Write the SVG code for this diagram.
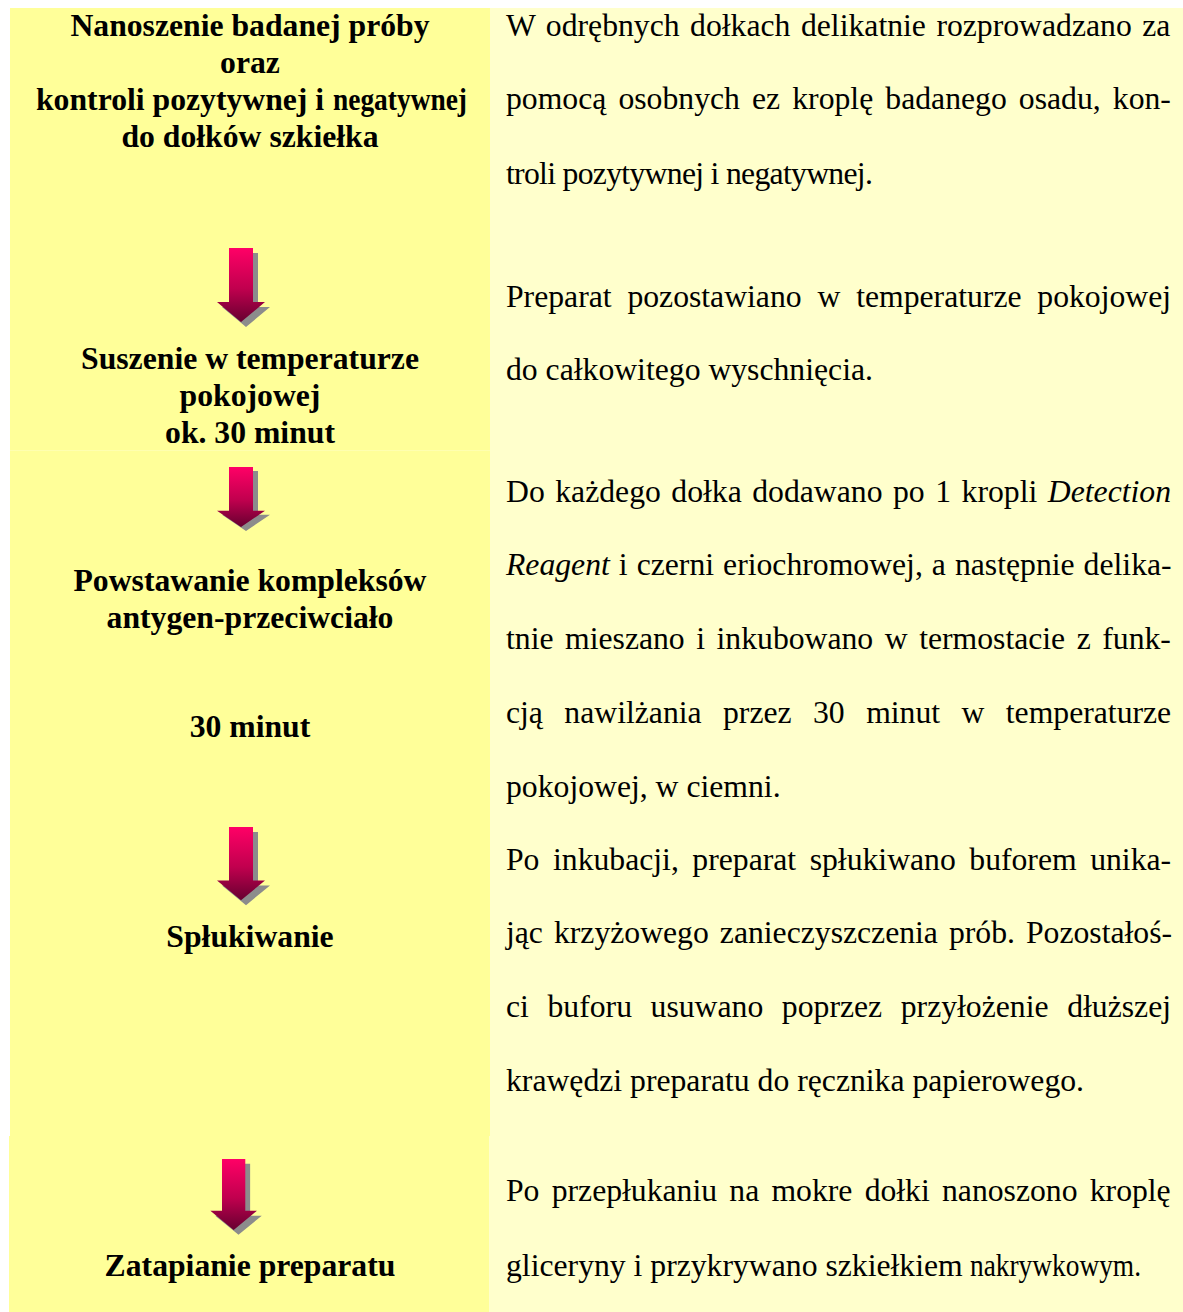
<svg xmlns="http://www.w3.org/2000/svg" width="1183" height="1312" viewBox="0 0 1183 1312">
<style>
.t{font-family:"Liberation Serif","Times New Roman",serif;font-size:31.7px;fill:#000}
.b{font-weight:bold;text-anchor:middle}
.bl{font-weight:bold}
.lc{fill:#FFFF99}
.rc{fill:#FFFFCC}
.sh{fill:#8C8C8C}
.ar{fill:url(#ag)}
</style>
<defs>
<linearGradient id="ag" x1="0" y1="0" x2="0" y2="1">
<stop offset="0" stop-color="#FF0066"/>
<stop offset="0.55" stop-color="#C0004E"/>
<stop offset="1" stop-color="#660030"/>
</linearGradient>
<g id="arrow">
<path class="sh" d="M5,5 h24 v54 h12 l-24,20 l-24,-20 h12 z"/>
<path class="ar" d="M0,0 h24 v54 h12 l-24,20 l-24,-20 h12 z"/>
</g>
</defs>
<rect width="1183" height="1312" fill="#FFFFFF"/>
<g id="background">
<rect class="lc" x="10" y="8" width="480" height="1128"/>
<rect class="lc" x="9" y="1136" width="480" height="176"/>
<rect class="rc" x="490" y="8" width="693" height="1128"/>
<rect class="rc" x="489" y="1136" width="694" height="176"/>
<line x1="10" y1="450.5" x2="490" y2="450.5" stroke="#FFFFB0" stroke-width="1"/>
</g>
<g id="step1">
<text class="t b" x="250" y="36">Nanoszenie badanej próby</text>
<text class="t b" x="250" y="73">oraz</text>
<text class="t bl" x="36" y="110">kontroli pozytywnej i </text>
<text class="t bl" x="333" y="110" textLength="134" lengthAdjust="spacingAndGlyphs">negatywnej</text>
<text class="t b" x="250" y="147">do dołków szkiełka</text>
</g>
<g id="step2">
<text class="t b" x="250" y="369">Suszenie w temperaturze</text>
<text class="t b" x="250" y="406">pokojowej</text>
<text class="t b" x="250" y="443">ok. 30 minut</text>
</g>
<g id="step3">
<text class="t b" x="250" y="591">Powstawanie kompleksów</text>
<text class="t b" x="250" y="628">antygen-przeciwciało</text>
<text class="t b" x="250" y="737">30 minut</text>
</g>
<g id="step4">
<text class="t b" x="250" y="947">Spłukiwanie</text>
</g>
<g id="step5">
<text class="t b" x="250" y="1276">Zatapianie preparatu</text>
</g>
<g id="desc1">
<text class="t" x="506" y="36" word-spacing="2.6">W odrębnych dołkach delikatnie rozprowadzano za</text>
<text class="t" x="506" y="109" word-spacing="4.2">pomocą osobnych ez kroplę badanego osadu, kon-</text>
<text class="t" x="506" y="184" letter-spacing="-0.7">troli pozytywnej i negatywnej.</text>
</g>
<g id="desc2">
<text class="t" x="506" y="307" word-spacing="7.9">Preparat pozostawiano w temperaturze pokojowej</text>
<text class="t" x="506" y="380">do całkowitego wyschnięcia.</text>
</g>
<g id="desc3">
<text class="t" x="506" y="502" word-spacing="2.6">Do każdego dołka dodawano po 1 kropli <tspan font-style="italic">Detection</tspan></text>
<text class="t" x="506" y="575" word-spacing="1.1"><tspan font-style="italic">Reagent</tspan> i czerni eriochromowej, a następnie delika-</text>
<text class="t" x="506" y="649" word-spacing="3.6">tnie mieszano i inkubowano w termostacie z funk-</text>
<text class="t" x="506" y="723" word-spacing="13.5">cją nawilżania przez 30 minut w temperaturze</text>
<text class="t" x="506" y="797">pokojowej, w ciemni.</text>
</g>
<g id="desc4">
<text class="t" x="506" y="870" word-spacing="5.6">Po inkubacji, preparat spłukiwano buforem unika-</text>
<text class="t" x="506" y="943" word-spacing="3.1">jąc krzyżowego zanieczyszczenia prób. Pozostałoś-</text>
<text class="t" x="506" y="1017" word-spacing="10.7">ci buforu usuwano poprzez przyłożenie dłuższej</text>
<text class="t" x="506" y="1091">krawędzi preparatu do ręcznika papierowego.</text>
</g>
<g id="desc5">
<text class="t" x="506" y="1201" word-spacing="4.3">Po przepłukaniu na mokre dołki nanoszono kroplę</text>
<text class="t" x="506" y="1276">gliceryny i przykrywano szkiełkiem </text>
<text class="t" x="970" y="1276" textLength="171" lengthAdjust="spacingAndGlyphs">nakrywkowym.</text>
</g>
<g id="connectors">
<use href="#arrow" transform="translate(229,248)"/>
<use href="#arrow" transform="translate(229,467) scale(1,0.81)"/>
<use href="#arrow" transform="translate(229,827) scale(1,0.99)"/>
<use href="#arrow" transform="translate(222,1159) scale(0.97,0.96)"/>
</g>
</svg>
